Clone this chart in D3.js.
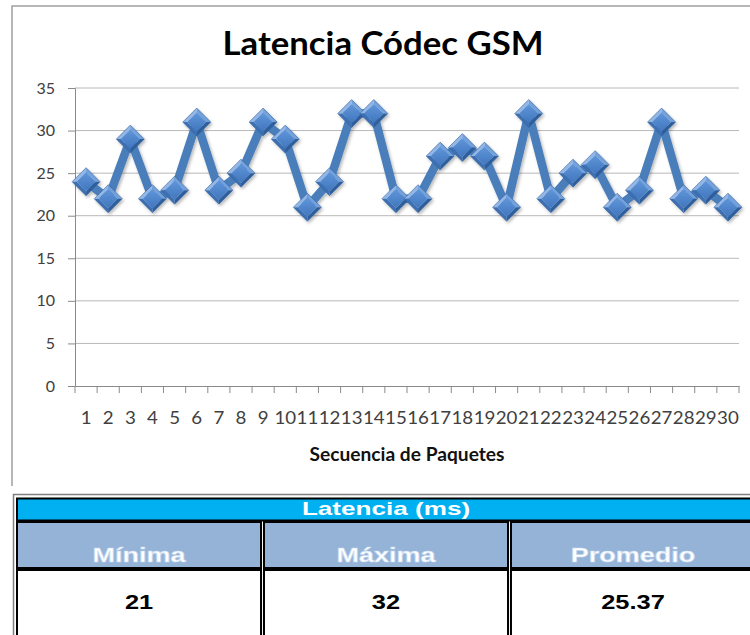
<!DOCTYPE html>
<html>
<head>
<meta charset="utf-8">
<script src="https://cdn.jsdelivr.net/npm/d3@7"></script>
<style>
  body { margin: 0; background: #fff; }
  .chart text { font-family: Lato, "Open Sans", sans-serif; }
  .tabla text { font-family: "Liberation Sans", Arial, sans-serif; font-weight: bold; }
</style>
</head>
<body>
<div id="grafico"></div>
<script>
const secuencia = ["1","2","3","4","5","6","7","8","9","10","11","12","13","14","15",
  "16","17","18","19","20","21","22","23","24","25","26","27","28","29","30"];
const latencia = [24,22,29,22,23,31,23,25,31,29,21,24,32,32,22,22,27,28,27,21,32,22,25,26,21,23,31,22,23,21];
const yTicks = [0,5,10,15,20,25,30,35];
const titulo = "Latencia Códec GSM";
const tituloEjeX = "Secuencia de Paquetes";
const tablaTitulo = "Latencia (ms)";
const tablaColumnas = ["Mínima","Máxima","Promedio"];
const tablaValores = ["21","32","25.37"];

const width = 750, height = 635;
const plot = {left: 75, right: 739, top: 88, bottom: 386};

const svg = d3.select("#grafico").append("svg")
  .attr("width", width)
  .attr("height", height);

const defs = svg.append("defs");
defs.append("filter")
  .attr("id", "sombra")
  .attr("x", "-10%").attr("y", "-10%").attr("width", "120%").attr("height", "120%")
  .append("feDropShadow")
  .attr("dx", 1.5).attr("dy", 2).attr("stdDeviation", 1.5)
  .attr("flood-color", "#000").attr("flood-opacity", 0.28);

const grad = defs.append("linearGradient")
  .attr("id", "centro")
  .attr("x1", 0).attr("y1", 0).attr("x2", 0).attr("y2", 1);
grad.append("stop").attr("offset", "0%").attr("stop-color", "#6096da");
grad.append("stop").attr("offset", "100%").attr("stop-color", "#4176bd");

// marco del grafico (recortado a la derecha y abajo)
const chart = svg.append("g").attr("class", "chart");
chart.append("path")
  .attr("d", "M12,486V6H752")
  .attr("fill", "none")
  .attr("stroke", "#a0a0a0")
  .attr("stroke-width", 1.5);

chart.append("text")
  .attr("x", 383)
  .attr("y", 55)
  .attr("text-anchor", "middle")
  .attr("font-size", 32)
  .attr("font-weight", "bold")
  .attr("fill", "#000")
  .attr("textLength", 321)
  .attr("lengthAdjust", "spacingAndGlyphs")
  .text(titulo);

const x = d3.scaleBand().domain(secuencia).range([plot.left, plot.right]);
const y = d3.scaleLinear().domain([0, 35]).range([plot.bottom, plot.top]);

// lineas de cuadricula
chart.append("g").selectAll("line")
  .data(yTicks.filter(d => d > 0))
  .join("line")
  .attr("x1", plot.left)
  .attr("x2", plot.right)
  .attr("y1", d => y(d))
  .attr("y2", d => y(d))
  .attr("stroke", "#b8b8b8");

const yAxis = chart.append("g")
  .attr("transform", `translate(${plot.left},0)`)
  .call(d3.axisLeft(y).tickValues(yTicks).tickSize(7).tickPadding(13));
yAxis.select(".domain").attr("stroke", "#8a8a8a");
yAxis.selectAll(".tick line").attr("stroke", "#8a8a8a");
yAxis.selectAll("text")
  .attr("font-size", 16)
  .attr("fill", "#404040");

const xAxis = chart.append("g")
  .attr("transform", `translate(0,${plot.bottom})`)
  .call(d3.axisBottom(x).tickSize(0).tickPadding(26));
xAxis.select(".domain").attr("stroke", "#8a8a8a");
xAxis.selectAll("text")
  .attr("font-size", 17)
  .attr("fill", "#404040")
  .attr("transform", "scale(1.1,1)");

// marcas entre categorias
const bordes = secuencia.map(d => x(d)).concat([plot.right]);
chart.append("g").selectAll("line")
  .data(bordes)
  .join("line")
  .attr("x1", d => d).attr("x2", d => d)
  .attr("y1", plot.bottom).attr("y2", plot.bottom + 7)
  .attr("stroke", "#8a8a8a");

chart.append("text")
  .attr("x", (plot.left + plot.right) / 2)
  .attr("y", 461)
  .attr("text-anchor", "middle")
  .attr("font-size", 18)
  .attr("font-weight", "bold")
  .attr("fill", "#111")
  .attr("textLength", 195)
  .attr("lengthAdjust", "spacingAndGlyphs")
  .text(tituloEjeX);

// serie
const px = i => x(secuencia[i]) + x.bandwidth() / 2;
const serie = chart.append("g").attr("filter", "url(#sombra)");

serie.append("path")
  .datum(latencia)
  .attr("d", d3.line().x((d, i) => px(i)).y(d => y(d)))
  .attr("fill", "none")
  .attr("stroke", "#4a7ebb")
  .attr("stroke-width", 8.5)
  .attr("stroke-linejoin", "round");

const r = 14, ri = 9.5;
const facetas = [
  {pts: [[-r,0],[0,-r],[0,-ri],[-ri,0]], color: "#92b6e6"},
  {pts: [[0,-r],[r,0],[ri,0],[0,-ri]], color: "#72a1dc"},
  {pts: [[r,0],[0,r],[0,ri],[ri,0]], color: "#2f5e9d"},
  {pts: [[0,r],[-r,0],[-ri,0],[0,ri]], color: "#3e70b3"}
];

const marcas = serie.selectAll("g.marca")
  .data(latencia)
  .join("g")
  .attr("class", "marca")
  .attr("transform", (d, i) => `translate(${px(i)},${y(d)})`);

facetas.forEach(f => {
  marcas.append("polygon")
    .attr("points", f.pts.map(p => p.join(",")).join(" "))
    .attr("fill", f.color);
});
marcas.append("polygon")
  .attr("points", [[0,-ri],[ri,0],[0,ri],[-ri,0]].map(p => p.join(",")).join(" "))
  .attr("fill", "url(#centro)");
marcas.append("polygon")
  .attr("points", [[0,-r],[r,0],[0,r],[-r,0]].map(p => p.join(",")).join(" "))
  .attr("fill", "none")
  .attr("stroke", "#33629f")
  .attr("stroke-width", 0.6);

// tabla de resumen
const tabla = svg.append("g").attr("class", "tabla");
const col = d3.scaleBand().domain(tablaColumnas).range([17, 755]).paddingInner(0.012);

tabla.append("rect")
  .attr("x", 13.5).attr("y", 494.5)
  .attr("width", 760).attr("height", 200)
  .attr("fill", "none")
  .attr("stroke", "#7f7f7f")
  .attr("stroke-width", 1.5);

tabla.append("rect")
  .attr("x", 17).attr("y", 498.5)
  .attr("width", 760).attr("height", 22)
  .attr("fill", "#00b0f0")
  .attr("stroke", "#000")
  .attr("stroke-width", 2);

tabla.append("text")
  .attr("transform", `translate(${(17 + 755) / 2},515) scale(1.45,1)`)
  .attr("text-anchor", "middle")
  .attr("font-size", 18)
  .attr("fill", "#fff")
  .text(tablaTitulo);

tabla.selectAll("rect.cab")
  .data(tablaColumnas)
  .join("rect")
  .attr("class", "cab")
  .attr("x", d => col(d))
  .attr("y", 522)
  .attr("width", (d, i) => i === 2 ? 260 : col.bandwidth())
  .attr("height", 46)
  .attr("fill", "#95b3d7")
  .attr("stroke", "#000")
  .attr("stroke-width", 2);

tabla.selectAll("text.cab")
  .data(tablaColumnas)
  .join("text")
  .attr("class", "cab")
  .attr("transform", d => `translate(${col(d) + col.bandwidth() / 2},562) scale(1.35,1)`)
  .attr("text-anchor", "middle")
  .attr("font-size", 20)
  .attr("fill", "#fff")
  .attr("stroke", "#c9dbf2")
  .attr("stroke-width", 0.6)
  .text(d => d);

tabla.selectAll("rect.val")
  .data(tablaColumnas)
  .join("rect")
  .attr("class", "val")
  .attr("x", d => col(d))
  .attr("y", 570)
  .attr("width", (d, i) => i === 2 ? 260 : col.bandwidth())
  .attr("height", 90)
  .attr("fill", "#fff")
  .attr("stroke", "#000")
  .attr("stroke-width", 2);

tabla.selectAll("text.val")
  .data(tablaValores)
  .join("text")
  .attr("class", "val")
  .attr("transform", (d, i) => `translate(${col(tablaColumnas[i]) + col.bandwidth() / 2},609) scale(1.27,1)`)
  .attr("text-anchor", "middle")
  .attr("font-size", 20)
  .attr("fill", "#000")
  .text(d => d);
</script>
</body>
</html>
